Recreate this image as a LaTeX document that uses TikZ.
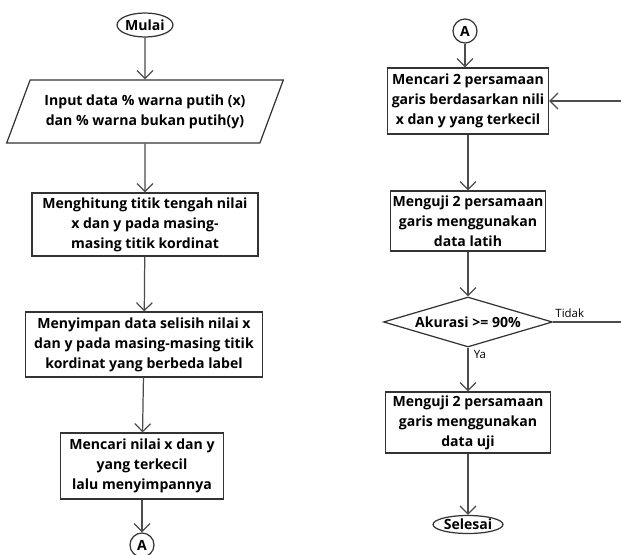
\documentclass[tikz,border=0pt]{standalone}
\usepackage{fontspec}
\setmainfont{Open Sans}
\usetikzlibrary{shapes.geometric,arrows.meta}

\begin{document}
\begin{tikzpicture}[x=0.02cm, y=-0.02cm,
        line width=0.7pt,
        arr/.style={draw=black!70, -{Straight Barb[length=4.5pt, width=9pt]}},
        proc/.style={rectangle, draw=black!80, align=center, inner sep=1pt,
            font=\bfseries\fontsize{8}{11.4}\selectfont},
        term/.style={ellipse, draw=black!80, inner sep=0pt,
            font=\bfseries\fontsize{8}{9}\selectfont},
        conn/.style={circle, draw=black!80, inner sep=0pt, minimum size=0.48cm,
            font=\bfseries\fontsize{8}{9}\selectfont},
        lbl/.style={font=\fontsize{6.5}{8}\selectfont, inner sep=1pt}
    ]
    \useasboundingbox (0,0) rectangle (621,554);

    % kolom kiri
    \node[term, minimum width=1.06cm, minimum height=0.48cm] (mulai) at (145,25) {Mulai};
    \node[proc, trapezium, trapezium left angle=61, trapezium right angle=119,
        trapezium stretches=true, minimum width=5.54cm, minimum height=1.26cm] (input) at (145,111.5)
        {Input data \% warna putih (x)\\dan \% warna bukan putih(y)};
    \node[proc, minimum width=4.52cm, minimum height=1.26cm] (hitung) at (145,224.5)
        {Menghitung titik tengah nilai\\x dan y pada masing-\\masing titik kordinat};
    \node[proc, minimum width=4.74cm, minimum height=1.3cm] (simpan) at (144,344.5)
        {Menyimpan data selisih nilai x\\dan y pada masing-masing titik\\kordinat yang berbeda label};
    \node[proc, minimum width=3.26cm, minimum height=1.32cm] (cari) at (142,466)
        {Mencari nilai x dan y\\yang terkecil\\lalu menyimpannya};
    \node[conn] (a1) at (142,545) {A};

    % kolom kanan
    \node[conn] (a2) at (465,31) {A};
    \node[proc, minimum width=3.22cm, minimum height=1.32cm] (garis) at (468,101)
        {Mencari 2 persamaan\\garis berdasarkan nili\\x dan y yang terkecil};
    \node[proc, minimum width=3.1cm, minimum height=1.2cm] (latih) at (468,221)
        {Menguji 2 persamaan\\garis menggunakan\\data latih};
    \node[proc, diamond, aspect=3.4, inner sep=0pt, minimum width=3.38cm, minimum height=1.0cm] (akurasi) at (468,322)
        {Akurasi >= 90\%};
    \node[proc, minimum width=3.3cm, minimum height=1.22cm] (uji) at (468,422.5)
        {Menguji 2 persamaan\\garis menggunakan\\data uji};
    \node[term, minimum width=1.4cm, minimum height=0.36cm] (selesai) at (468,524.5) {Selesai};

    \node[lbl, anchor=south west] (tidak) at ([yshift=1pt]akurasi.east) {Tidak};
    \node[lbl, anchor=north west] (ya) at ([xshift=2pt]akurasi.south) {Ya};
    \coordinate (balik) at (624,322);

    \draw[arr] (mulai) -- (input);
    \draw[arr] (input) -- (hitung);
    \draw[arr] (hitung) -- (simpan);
    \draw[arr] (simpan) -- (cari);
    \draw[arr] (cari) -- (a1);

    \draw[arr] (a2) -- (a2 |- garis.north);
    \draw[arr] (garis) -- (latih);
    \draw[arr] (latih) -- (akurasi);
    \draw[arr] (akurasi) -- (uji);
    \draw[arr] (uji) -- (selesai);
    \draw[arr] (akurasi.east) -- (balik) |- (garis.east);
\end{tikzpicture}
\end{document}
